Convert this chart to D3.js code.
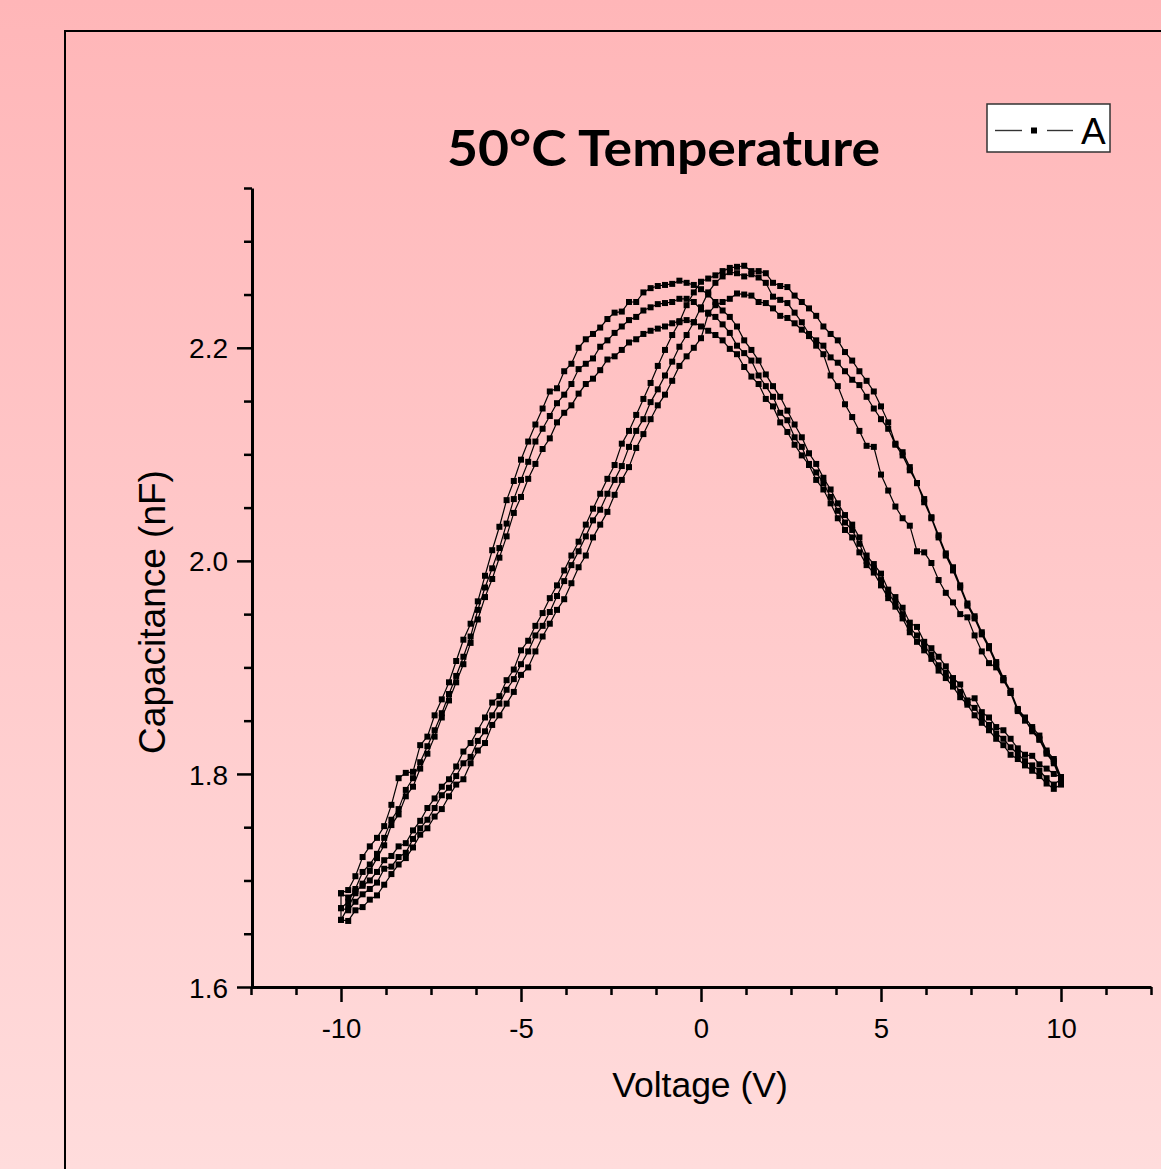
<!DOCTYPE html>
<html><head><meta charset="utf-8">
<script src="https://cdn.jsdelivr.net/npm/d3@7"></script>
<style>html,body{margin:0;padding:0;overflow:hidden;background:#fff;} svg{display:block;}</style>
</head><body>
<svg id="chart" width="1161" height="1169"></svg>
<script>
// ---------- DATA ----------
const voltages = [-10,-9.8,-9.6,-9.4,-9.2,-9,-8.8,-8.6,-8.4,-8.2,
  -8,-7.8,-7.6,-7.4,-7.2,-7,-6.8,-6.6,-6.4,-6.2,
  -6,-5.8,-5.6,-5.4,-5.2,-5,-4.8,-4.6,-4.4,-4.2,
  -4,-3.8,-3.6,-3.4,-3.2,-3,-2.8,-2.6,-2.4,-2.2,
  -2,-1.8,-1.6,-1.4,-1.2,-1,-0.8,-0.6,-0.4,-0.2,
  0,0.2,0.4,0.6,0.8,1,1.2,1.4,1.6,1.8,
  2,2.2,2.4,2.6,2.8,3,3.2,3.4,3.6,3.8,
  4,4.2,4.4,4.6,4.8,5,5.2,5.4,5.6,5.8,
  6,6.2,6.4,6.6,6.8,7,7.2,7.4,7.6,7.8,
  8,8.2,8.4,8.6,8.8,9,9.2,9.4,9.6,9.8,
  10];

// forward sweeps (-10 V -> +10 V), capacitance in nF, indexed like voltages
const sweepUp1 = [1.688,1.684,1.690,1.695,1.700,1.708,1.719,1.723,1.732,1.735,
  1.747,1.756,1.768,1.777,1.788,1.795,1.807,1.821,1.829,1.841,
  1.853,1.867,1.873,1.888,1.898,1.916,1.925,1.939,1.951,1.965,
  1.977,1.991,2.005,2.018,2.034,2.049,2.063,2.077,2.090,2.110,
  2.122,2.137,2.152,2.167,2.183,2.198,2.212,2.224,2.240,2.252,
  2.262,2.265,2.268,2.272,2.275,2.276,2.277,2.272,2.272,2.270,
  2.261,2.258,2.257,2.249,2.243,2.237,2.230,2.220,2.213,2.207,
  2.196,2.188,2.178,2.169,2.159,2.145,2.130,2.110,2.102,2.088,
  2.073,2.058,2.041,2.024,2.007,1.994,1.977,1.960,1.948,1.933,
  1.920,1.905,1.890,1.878,1.861,1.853,1.844,1.836,1.822,1.814,
  1.797];
const sweepUp2 = [1.674,1.672,1.680,1.687,1.692,1.698,1.711,1.713,1.722,1.726,
  1.739,1.749,1.757,1.768,1.780,1.787,1.798,1.810,1.816,1.831,
  1.840,1.855,1.866,1.879,1.889,1.903,1.915,1.930,1.939,1.952,
  1.967,1.981,1.996,2.009,2.023,2.038,2.048,2.063,2.076,2.089,
  2.107,2.122,2.133,2.149,2.161,2.174,2.187,2.201,2.212,2.224,
  2.238,2.252,2.261,2.267,2.271,2.270,2.267,2.269,2.266,2.261,
  2.248,2.245,2.242,2.233,2.224,2.213,2.207,2.202,2.191,2.186,
  2.178,2.170,2.165,2.154,2.143,2.133,2.124,2.109,2.099,2.085,
  2.073,2.055,2.040,2.022,2.005,1.991,1.975,1.958,1.946,1.931,
  1.918,1.903,1.888,1.876,1.859,1.850,1.842,1.833,1.820,1.812,
  1.795];
const sweepUp3 = [1.663,1.662,1.672,1.675,1.682,1.686,1.696,1.706,1.715,1.721,
  1.731,1.743,1.749,1.760,1.767,1.779,1.790,1.795,1.810,1.822,
  1.829,1.846,1.855,1.866,1.877,1.893,1.900,1.915,1.929,1.941,
  1.954,1.964,1.979,1.994,2.005,2.022,2.034,2.046,2.062,2.076,
  2.088,2.106,2.119,2.133,2.146,2.156,2.169,2.183,2.192,2.200,
  2.209,2.232,2.240,2.243,2.246,2.251,2.250,2.249,2.243,2.242,
  2.237,2.230,2.228,2.223,2.217,2.211,2.202,2.194,2.174,2.164,
  2.147,2.135,2.122,2.108,2.107,2.081,2.066,2.051,2.040,2.033,
  2.009,2.008,1.998,1.982,1.970,1.961,1.950,1.947,1.930,1.915,
  1.904,1.900,1.888,1.876,1.860,1.851,1.840,1.832,1.819,1.810,
  1.793];

// reverse sweeps (+10 V -> -10 V), stored indexed like voltages (ascending V)
const sweepDown1 = [1.688,1.691,1.704,1.722,1.732,1.740,1.751,1.771,1.796,1.801,
  1.802,1.827,1.835,1.855,1.870,1.886,1.906,1.926,1.941,1.962,
  1.986,2.010,2.032,2.057,2.075,2.095,2.112,2.128,2.143,2.159,
  2.162,2.178,2.185,2.200,2.208,2.213,2.219,2.227,2.233,2.234,
  2.243,2.243,2.252,2.256,2.258,2.259,2.260,2.263,2.261,2.259,
  2.255,2.250,2.243,2.235,2.229,2.220,2.207,2.198,2.188,2.175,
  2.164,2.154,2.141,2.128,2.116,2.101,2.091,2.078,2.067,2.054,
  2.043,2.034,2.022,2.005,1.997,1.988,1.973,1.966,1.956,1.942,
  1.938,1.924,1.918,1.910,1.901,1.890,1.884,1.869,1.871,1.858,
  1.853,1.844,1.841,1.833,1.824,1.818,1.817,1.809,1.805,1.800,
  1.797];
const sweepDown2 = [1.674,1.680,1.692,1.708,1.715,1.725,1.740,1.757,1.767,1.785,
  1.796,1.811,1.826,1.841,1.857,1.875,1.892,1.910,1.929,1.954,
  1.975,1.993,2.012,2.035,2.058,2.076,2.093,2.112,2.124,2.136,
  2.148,2.156,2.166,2.180,2.185,2.190,2.201,2.207,2.214,2.220,
  2.226,2.229,2.235,2.238,2.241,2.242,2.243,2.246,2.246,2.243,
  2.236,2.233,2.229,2.222,2.214,2.202,2.195,2.188,2.174,2.164,
  2.154,2.139,2.132,2.116,2.107,2.091,2.083,2.073,2.060,2.047,
  2.036,2.029,2.016,2.000,1.993,1.982,1.969,1.961,1.950,1.937,
  1.930,1.920,1.912,1.902,1.895,1.886,1.877,1.867,1.862,1.853,
  1.846,1.838,1.833,1.825,1.819,1.812,1.808,1.803,1.796,1.790,
  1.795];
const sweepDown3 = [1.663,1.675,1.688,1.697,1.709,1.721,1.733,1.752,1.762,1.779,
  1.788,1.805,1.819,1.835,1.853,1.869,1.886,1.903,1.923,1.945,
  1.966,1.983,2.003,2.023,2.045,2.060,2.077,2.091,2.105,2.115,
  2.130,2.139,2.146,2.157,2.166,2.171,2.179,2.189,2.192,2.198,
  2.205,2.208,2.213,2.216,2.218,2.220,2.223,2.225,2.226,2.224,
  2.220,2.216,2.212,2.207,2.199,2.194,2.182,2.173,2.166,2.152,
  2.145,2.130,2.121,2.109,2.099,2.090,2.076,2.067,2.054,2.040,
  2.029,2.022,2.008,1.996,1.989,1.977,1.965,1.957,1.946,1.933,
  1.924,1.916,1.908,1.897,1.890,1.882,1.872,1.865,1.855,1.848,
  1.841,1.833,1.827,1.818,1.814,1.808,1.803,1.798,1.791,1.786,
  1.790];

const xMajorTicks = [-10,-5,0,5,10];
const xMinorTicks = [-12.5,-11.25,-8.75,-7.5,-6.25,-3.75,-2.5,-1.25,1.25,2.5,3.75,6.25,7.5,8.75,11.25,12.5];
const yMajorTicks = [1.6,1.8,2.0,2.2];
const yMinorTicks = [1.65,1.7,1.75,1.85,1.9,1.95,2.05,2.1,2.15,2.25,2.3,2.35];
const titleText = "50°C Temperature";
const xLabelText = "Voltage (V)";
const yLabelText = "Capacitance (nF)";
const seriesName = "A";

// ---------- DRAW ----------
const svg = d3.select("#chart");
const W = 1161, H = 1169;

const defs = svg.append("defs");
const grad = defs.append("linearGradient").attr("id","bg").attr("x1",0).attr("y1",0).attr("x2",0).attr("y2",1);
grad.append("stop").attr("offset","0%").attr("stop-color","#ffb6b8");
grad.append("stop").attr("offset","100%").attr("stop-color","#ffdcdc");
svg.append("rect").attr("width",W).attr("height",H).attr("fill","url(#bg)");

// frame
svg.append("rect").attr("x",65).attr("y",31).attr("width",1200).attr("height",1200)
  .attr("fill","none").attr("stroke","#000").attr("stroke-width",2);

const x = d3.scaleLinear().domain([-12.5,12.5]).range([251,1151]);
const y = d3.scaleLinear().domain([1.6,2.35]).range([987,188]);

const axisFont = "'Liberation Sans', Arial, sans-serif";

// x axis
const gxMinor = svg.append("g").attr("transform","translate(0,987)")
  .call(d3.axisBottom(x).tickValues(xMinorTicks).tickSize(8).tickSizeOuter(0).tickFormat(""));
gxMinor.select(".domain").remove();
const gx = svg.append("g").attr("transform","translate(0,987)")
  .call(d3.axisBottom(x).tickValues(xMajorTicks).tickSize(15).tickSizeOuter(0).tickFormat(d => String(d)));
gx.selectAll("text").attr("y",51).attr("dy",0).attr("font-size",27.5).attr("font-family",axisFont).attr("fill","#000");

// y axis
const gyMinor = svg.append("g").attr("transform","translate(252,0)")
  .call(d3.axisLeft(y).tickValues(yMinorTicks).tickSize(8).tickSizeOuter(0).tickFormat(""));
gyMinor.select(".domain").remove();
const gy = svg.append("g").attr("transform","translate(252,0)")
  .call(d3.axisLeft(y).tickValues(yMajorTicks).tickSize(15).tickSizeOuter(0).tickFormat(d => d.toFixed(1)));
gy.selectAll("text").attr("x",-24).attr("dy","0.36em").attr("font-size",28).attr("font-family",axisFont).attr("fill","#000");

svg.selectAll(".tick line").attr("stroke","#000").attr("stroke-width",2.5);
svg.selectAll(".domain").attr("stroke","#000").attr("stroke-width",3);

// data path: up1, down1, up2, down2, up3, down3
const ups = [sweepUp1, sweepUp2, sweepUp3];
const downs = [sweepDown1, sweepDown2, sweepDown3];
const pts = [];
for (let c = 0; c < 3; c++) {
  voltages.forEach((v,i) => pts.push({v, c: ups[c][i]}));
  for (let i = voltages.length - 1; i >= 0; i--) pts.push({v: voltages[i], c: downs[c][i]});
}
const line = d3.line().x(d => x(d.v)).y(d => y(d.c));
svg.append("path").datum(pts).attr("d", line).attr("fill","none").attr("stroke","#000").attr("stroke-width",1.2);

const ms = 6;
svg.append("g").selectAll("rect").data(pts).join("rect")
  .attr("x", d => x(d.v) - ms/2).attr("y", d => y(d.c) - ms/2)
  .attr("width", ms).attr("height", ms).attr("fill","#000");

// title
svg.append("text").attr("x",663.5).attr("y",166).attr("text-anchor","middle")
  .attr("font-family","Lato, 'Open Sans', sans-serif").attr("font-weight","bold").attr("font-size",49)
  .attr("textLength",433).attr("lengthAdjust","spacingAndGlyphs").attr("fill","#000").text(titleText);

// axis labels
svg.append("text").attr("x",700).attr("y",1097).attr("text-anchor","middle")
  .attr("font-family",axisFont).attr("font-size",35.5).attr("fill","#000").text(xLabelText);
svg.append("text").attr("transform","translate(165,612) rotate(-90)").attr("text-anchor","middle")
  .attr("font-family",axisFont).attr("font-size",37).attr("fill","#000").text(yLabelText);

// legend
const lg = svg.append("g");
lg.append("rect").attr("x",987).attr("y",104).attr("width",123).attr("height",48)
  .attr("fill","#fff").attr("stroke","#333").attr("stroke-width",1.5);
lg.append("line").attr("x1",995).attr("x2",1022).attr("y1",130.5).attr("y2",130.5).attr("stroke","#333").attr("stroke-width",1.4);
lg.append("line").attr("x1",1047).attr("x2",1073).attr("y1",130.5).attr("y2",130.5).attr("stroke","#333").attr("stroke-width",1.4);
lg.append("rect").attr("x",1034-ms/2).attr("y",130.5-ms/2).attr("width",ms).attr("height",ms).attr("fill","#000");
lg.append("text").attr("x",1081).attr("y",143.5).attr("font-family",axisFont).attr("font-size",37).attr("fill","#000").text(seriesName);
</script>
</body></html>
